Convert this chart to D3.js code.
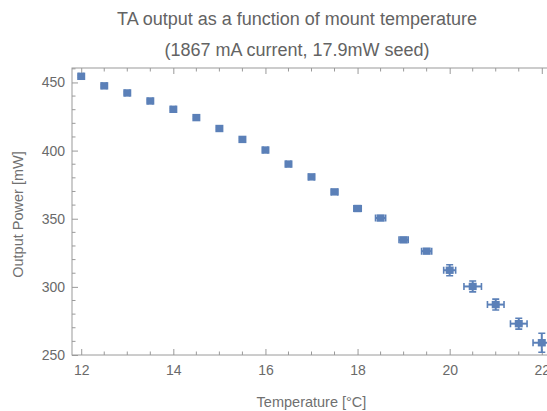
<!DOCTYPE html>
<html lang="en">
<head>
    <meta charset="UTF-8">
    <title>TA output vs mount temperature</title>
    <script src="https://d3js.org/d3.v7.min.js"></script>
    <style>
        * { margin: 0; padding: 0; box-sizing: border-box; }
        body { background: #ffffff; overflow: hidden; font-family: "Liberation Sans", Arial, sans-serif; }
        .tick text { fill: #6a6a6a; font-size: 14px; }
        .title { fill: #636363; font-size: 18px; }
        .label { fill: #707070; font-size: 14.5px; }
    </style>
</head>
<body>
    <svg></svg>
    <script>
        // Messwerte
        const temps = [12, 12.5, 13, 13.5, 14, 14.5, 15, 15.5, 16, 16.5, 17, 17.5, 18, 18.5, 19, 19.5, 20, 20.5, 21, 21.5, 22];
        const power = [454.5, 447.5, 442.3, 436.4, 430.3, 424.2, 416.2, 408.2, 400.4, 390.1, 380.7, 369.7, 357.5, 350.5, 334.5, 326.2, 312.2, 300.3, 287, 273, 259];
        const tempErr = [0.05, 0.05, 0.05, 0.05, 0.05, 0.05, 0.05, 0.05, 0.05, 0.05, 0.06, 0.07, 0.08, 0.11, 0.1, 0.11, 0.13, 0.19, 0.18, 0.18, 0.19];
        const powerErr = [0.8, 0.8, 0.8, 0.8, 0.8, 0.8, 0.8, 0.8, 0.8, 0.8, 1, 1.5, 1.5, 1.5, 1.5, 1.5, 4, 4, 4, 4, 7];
        const xMajor = [12, 14, 16, 18, 20, 22];
        const yMajor = [250, 300, 350, 400, 450];

        const W = 547, H = 411;
        const mLeft = 72, mRight = 551, mTop = 68, mBottom = 355;

        const svg = d3.select("svg").attr("width", W).attr("height", H);

        const x = d3.scaleLinear().domain([11.8, 22.2]).range([mLeft, mRight]);
        const y = d3.scaleLinear().domain([250, 460.6]).range([mBottom, mTop]);

        const frameColor = "#9a9a9a";

        // Minor ticks
        const xMinor = d3.range(12, 22.01, 0.5).filter(v => !xMajor.includes(v));
        const yMinor = d3.range(250, 461, 10).filter(v => !yMajor.includes(v));

        const g = svg.append("g");

        // Rahmen
        g.append("rect")
            .attr("x", mLeft).attr("y", mTop)
            .attr("width", mRight - mLeft).attr("height", mBottom - mTop)
            .attr("fill", "none").attr("stroke", frameColor).attr("stroke-width", 1);

        // Achsen mit nach innen zeigenden Ticks
        const xAxis = g.append("g")
            .attr("transform", `translate(0,${mBottom})`)
            .call(d3.axisBottom(x).tickValues(xMajor).tickSize(-6).tickPadding(10).tickFormat(d3.format("d")));
        xAxis.select(".domain").remove();
        xAxis.selectAll("line").attr("stroke", frameColor);

        const xAxisTop = g.append("g")
            .attr("transform", `translate(0,${mTop})`)
            .call(d3.axisTop(x).tickValues(xMajor).tickSize(-6).tickFormat(""));
        xAxisTop.select(".domain").remove();
        xAxisTop.selectAll("line").attr("stroke", frameColor);

        const yAxis = g.append("g")
            .attr("transform", `translate(${mLeft},0)`)
            .call(d3.axisLeft(y).tickValues(yMajor).tickSize(-6).tickPadding(7).tickFormat(d3.format("d")));
        yAxis.select(".domain").remove();
        yAxis.selectAll("line").attr("stroke", frameColor);

        g.append("g").selectAll("line").data(xMinor).join("line")
            .attr("x1", d => x(d)).attr("x2", d => x(d))
            .attr("y1", mBottom).attr("y2", mBottom - 3.5)
            .attr("stroke", frameColor);
        g.append("g").selectAll("line").data(xMinor).join("line")
            .attr("x1", d => x(d)).attr("x2", d => x(d))
            .attr("y1", mTop).attr("y2", mTop + 3.5)
            .attr("stroke", frameColor);
        g.append("g").selectAll("line").data(yMinor).join("line")
            .attr("x1", mLeft).attr("x2", mLeft + 3.5)
            .attr("y1", d => y(d)).attr("y2", d => y(d))
            .attr("stroke", frameColor);

        svg.selectAll(".tick text").attr("font-family", "'Liberation Sans', Arial, sans-serif");

        // Datenpunkte mit Fehlerbalken
        const data = temps.map((t, i) => ({ t, p: power[i], dt: tempErr[i], dp: powerErr[i] }));
        const blue = "#5b80b8";
        const pts = g.append("g").selectAll("g").data(data).join("g");

        pts.append("line")
            .attr("x1", d => x(d.t - d.dt)).attr("x2", d => x(d.t + d.dt))
            .attr("y1", d => y(d.p)).attr("y2", d => y(d.p))
            .attr("stroke", blue).attr("stroke-width", 2);
        pts.append("line")
            .attr("x1", d => x(d.t)).attr("x2", d => x(d.t))
            .attr("y1", d => y(d.p - d.dp)).attr("y2", d => y(d.p + d.dp))
            .attr("stroke", blue).attr("stroke-width", 2);
        // Endkappen
        pts.append("path")
            .attr("d", d => {
                const xl = x(d.t - d.dt), xr = x(d.t + d.dt), yy = y(d.p);
                const yt = y(d.p + d.dp), yb = y(d.p - d.dp), xx = x(d.t);
                return `M${xl},${yy - 3.5}V${yy + 3.5}M${xr},${yy - 3.5}V${yy + 3.5}` +
                       `M${xx - 3.5},${yt}H${xx + 3.5}M${xx - 3.5},${yb}H${xx + 3.5}`;
            })
            .attr("stroke", blue).attr("stroke-width", 1.6).attr("fill", "none");
        pts.append("rect")
            .attr("x", d => x(d.t) - 4).attr("y", d => y(d.p) - 3.7)
            .attr("width", 8).attr("height", 7.4)
            .attr("fill", blue);

        // Titel und Beschriftungen
        svg.append("text").attr("class", "title")
            .attr("x", 297).attr("y", 25).attr("text-anchor", "middle")
            .text("TA output as a function of mount temperature");
        svg.append("text").attr("class", "title")
            .attr("x", 297).attr("y", 56).attr("text-anchor", "middle")
            .text("(1867 mA current, 17.9mW seed)");

        svg.append("text").attr("class", "label")
            .attr("x", (mLeft + mRight) / 2).attr("y", 407).attr("text-anchor", "middle")
            .text("Temperature [°C]");
        svg.append("text").attr("class", "label")
            .attr("transform", `translate(23,${(mTop + mBottom) / 2 + 3}) rotate(-90)`)
            .attr("text-anchor", "middle")
            .text("Output Power [mW]");
    </script>
</body>
</html>
